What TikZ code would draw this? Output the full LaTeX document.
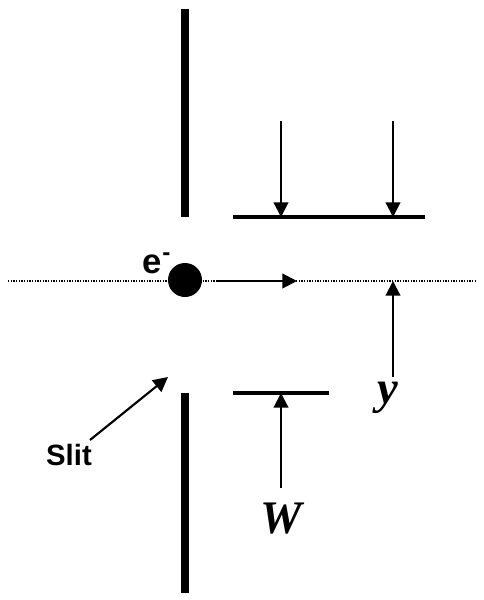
\documentclass[tikz,border=0pt]{standalone}
\usepackage{fontspec}
\setmainfont{Liberation Serif}
\setsansfont{Liberation Sans}
\usetikzlibrary{arrows.meta}
\begin{document}
\begin{tikzpicture}[x=0.75pt,y=-0.75pt,
  barrier/.style={line width=6pt},
  plate/.style={line width=2.3pt},
  arr/.style={line width=1.6pt,-{Triangle[length=11pt,width=11pt]}},
  beamline/.style={line width=0.8pt,dash pattern=on 1pt off 1pt},
  sanslabel/.style={font=\sffamily\bfseries,inner sep=0pt},
  mathlabel/.style={font=\fontsize{35}{40}\selectfont\bfseries\itshape,inner sep=0pt}]
\useasboundingbox (0,0) rectangle (483,600);
% barriers
\draw[barrier] (185,9) -- (185,217);
\draw[barrier] (185,393) -- (185,593);
% beam axis
\draw[beamline] (8,281) -- (475,281);
% electron
\node[circle,fill=black,minimum size=25.5pt,inner sep=0pt] (el) at (185,280) {};
\node[sanslabel,font=\fontsize{26}{30}\selectfont\sffamily\bfseries,anchor=base] (elab) at (157,273) {e\textsuperscript{-}};
% direction arrow
\coordinate (vs) at (217,281);
\coordinate (ve) at (297,281);
\draw[arr] (vs) -- (ve);
% top plate and arrows
\coordinate (tpl) at (233,217);
\coordinate (tpr) at (425,217);
\draw[plate] (tpl) -- (tpr);
\coordinate (a1s) at (281,121);
\coordinate (a1e) at (281,217);
\coordinate (a2s) at (393,121);
\coordinate (a2e) at (393,217);
\draw[arr] (a1s) -- (a1e);
\draw[arr] (a2s) -- (a2e);
% bottom plate
\coordinate (bpl) at (233,393);
\coordinate (bpr) at (329,393);
\draw[plate] (bpl) -- (bpr);
% W
\node[mathlabel] (W) at (281,519) {W};
\coordinate (ws) at (281,488);
\coordinate (we) at (281,393);
\draw[arr] (ws) -- (we);
% y
\node[mathlabel] (Y) at (388,398) {y};
\coordinate (ys) at (393,377);
\coordinate (ye) at (393,281);
\draw[arr] (ys) -- (ye);
% slit
\node[sanslabel,font=\fontsize{22}{26}\selectfont\sffamily\bfseries] (slit) at (69,455) {Slit};
\coordinate (sle) at (168,377);
\draw[arr] (90,440) -- (sle);
\end{tikzpicture}
\end{document}
